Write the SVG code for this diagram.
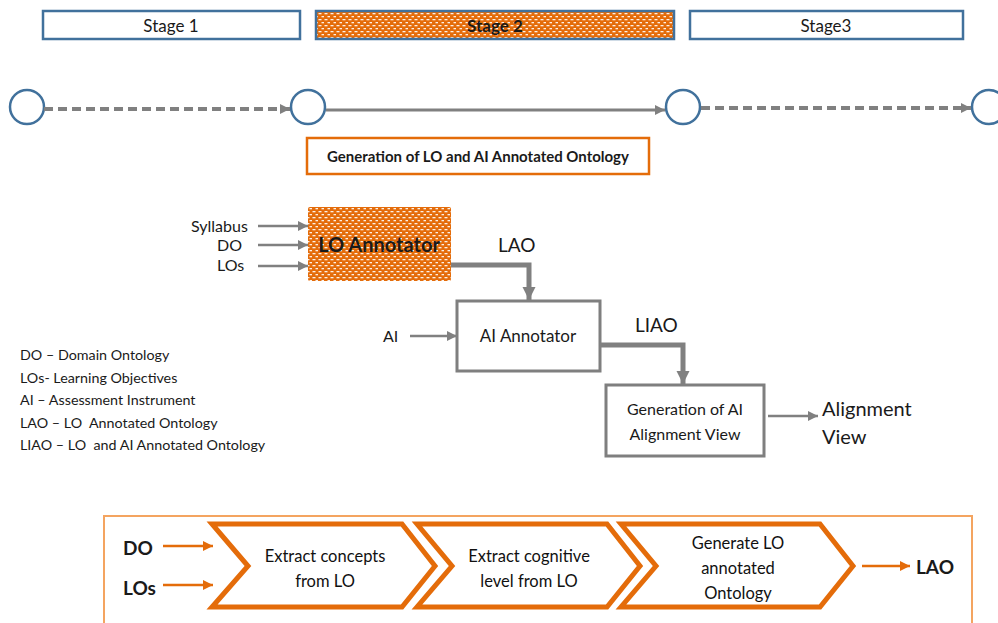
<svg xmlns="http://www.w3.org/2000/svg" width="998" height="623" viewBox="0 0 998 623">
  <defs>
    <pattern id="dots" width="6" height="6" patternUnits="userSpaceOnUse">
      <rect width="6" height="6" fill="#E46C0A"/>
      <rect x="0.5" y="1" width="3" height="1.3" fill="#FFFFFF" opacity="0.9"/>
      <rect x="3.5" y="4" width="3" height="1.3" fill="#FFFFFF" opacity="0.9"/>
    </pattern>
    <marker id="ahGray" viewBox="0 0 10 10" refX="10" refY="5" markerWidth="10" markerHeight="10" markerUnits="userSpaceOnUse" orient="auto">
      <path d="M0,0 L10,5 L0,10 Z" fill="#808080"/>
    </marker>
    <marker id="ahGrayBig" viewBox="0 0 10 10" refX="10" refY="5" markerWidth="13" markerHeight="14" markerUnits="userSpaceOnUse" orient="auto">
      <path d="M0,0 L10,5 L0,10 Z" fill="#808080"/>
    </marker>
    <marker id="ahOrange" viewBox="0 0 10 10" refX="10" refY="5" markerWidth="10" markerHeight="10" markerUnits="userSpaceOnUse" orient="auto">
      <path d="M0,0 L10,5 L0,10 Z" fill="#E46C0A"/>
    </marker>
  </defs>
  <style>
    text { font-family: Lato, "Open Sans", "Liberation Sans", sans-serif; fill: #1A1A1A; }
    .stage { fill: #FFFFFF; stroke: #41719C; stroke-width: 2.5; }
    .dot { fill: #FFFFFF; stroke: #41719C; stroke-width: 2.5; }
    .gbox { fill: #FFFFFF; stroke: #7F7F7F; stroke-width: 3; }
    .obox { fill: #FFFFFF; stroke: #E46C0A; stroke-width: 2.5; }
    .chev { fill: #FFFFFF; stroke: #E46C0A; stroke-width: 5; stroke-linejoin: miter; }
    .g { stroke: #808080; fill: none; }
    .o { stroke: #E46C0A; fill: none; stroke-width: 2.5; }
    .mid { text-anchor: middle; }
    .step { font-size: 16.5px; fill: #111111; }
    .pre { white-space: pre; }
  </style>

  <rect width="998" height="623" fill="#FFFFFF"/>

  <!-- stage bar -->
  <g id="stage1"><rect class="stage" x="43" y="11" width="257" height="28"/><text class="mid" x="171" y="32" font-size="17">Stage 1</text></g>
  <g id="stage2"><rect x="316" y="11" width="358" height="28" fill="url(#dots)" stroke="#41719C" stroke-width="2.5"/><text class="mid" x="495" y="32" font-size="17" font-weight="bold">Stage 2</text></g>
  <g id="stage3"><rect class="stage" x="690" y="11" width="273" height="28"/><text class="mid" x="826" y="32" font-size="17">Stage3</text></g>

  <!-- timeline milestones -->
  <g id="m1"><circle class="dot" cx="27" cy="107" r="17"/></g>
  <g id="m2"><circle class="dot" cx="308" cy="107" r="17"/></g>
  <g id="m3"><circle class="dot" cx="683" cy="107" r="17"/></g>
  <g id="m4"><circle class="dot" cx="989" cy="107" r="17"/></g>

  <g id="stage-title"><rect class="obox" x="307" y="138" width="342" height="36"/><text class="mid" x="478" y="162" font-size="15" font-weight="bold">Generation of LO and AI Annotated Ontology</text></g>

  <!-- pipeline blocks -->
  <g id="lo-annotator"><rect x="308" y="207" width="143" height="74" rx="2" fill="url(#dots)"/><text class="mid" x="379" y="252" font-size="20" font-weight="bold">LO Annotator</text></g>
  <g id="ai-annotator"><rect class="gbox" x="457" y="301" width="143" height="70"/><text class="mid" x="528" y="342" font-size="17">AI Annotator</text></g>
  <g id="alignment"><rect class="gbox" x="606" y="385" width="158" height="71"/><text class="mid" x="685" y="415" font-size="16">Generation of AI</text><text class="mid" x="685" y="440" font-size="16">Alignment View</text></g>

  <!-- inputs and outputs -->
  <g id="inputs">
    <text x="191" y="232" font-size="16">Syllabus</text>
    <text x="217" y="251" font-size="16">DO</text>
    <text x="217" y="271" font-size="16">LOs</text>
    <text x="383" y="342" font-size="16">AI</text>
    <text x="498" y="252" font-size="19">LAO</text>
    <text x="635" y="332" font-size="19">LIAO</text>
    <text x="822" y="416" font-size="20">Alignment</text>
    <text x="822" y="444" font-size="20">View</text>
  </g>

  <!-- legend -->
  <g id="legend" font-size="14.3">
    <text class="pre" x="20" y="360">DO – Domain Ontology</text>
    <text class="pre" x="20" y="382.5">LOs- Learning Objectives</text>
    <text class="pre" x="20" y="405">AI – Assessment Instrument</text>
    <text class="pre" x="20" y="427.5">LAO – LO  Annotated Ontology</text>
    <text class="pre" x="20" y="450">LIAO – LO  and AI Annotated Ontology</text>
  </g>

  <!-- LO annotator detail -->
  <g id="detail-frame"><rect x="104" y="516" width="868" height="120" fill="none" stroke="#F4A460" stroke-width="2"/></g>
  <g id="step1"><path class="chev" d="M212,524 L402,524 L435,566 L402,607 L212,607 L248,566 Z"/><text class="mid step" x="325" y="562">Extract concepts</text><text class="mid step" x="325" y="587">from LO</text></g>
  <g id="step2"><path class="chev" d="M417,524 L607,524 L640,566 L607,607 L417,607 L452,566 Z"/><text class="mid step" x="529" y="562">Extract cognitive</text><text class="mid step" x="529" y="587">level from LO</text></g>
  <g id="step3"><path class="chev" d="M621,524 L820,524 L853,566 L820,607 L621,607 L656,566 Z"/><text class="mid step" x="738" y="549">Generate LO</text><text class="mid step" x="738" y="574">annotated</text><text class="mid step" x="738" y="599">Ontology</text></g>
  <g id="detail-io">
    <text x="123" y="555" font-size="19" font-weight="bold">DO</text>
    <text x="123" y="595" font-size="19" font-weight="bold">LOs</text>
    <text x="916" y="574" font-size="19" font-weight="bold">LAO</text>
  </g>

  <!-- connectors -->
  <g id="connectors">
    <line class="g" x1="44" y1="109" x2="290" y2="109" stroke-width="4" stroke-dasharray="9,5" marker-end="url(#ahGray)"/>
    <line class="g" x1="326" y1="110" x2="665" y2="110" stroke-width="3" marker-end="url(#ahGray)"/>
    <line class="g" x1="701" y1="108" x2="971" y2="108" stroke-width="4" stroke-dasharray="9,5" marker-end="url(#ahGray)"/>

    <line class="g" x1="258" y1="226" x2="308" y2="226" stroke-width="2.5" marker-end="url(#ahGray)"/>
    <line class="g" x1="258" y1="245" x2="308" y2="245" stroke-width="2.5" marker-end="url(#ahGray)"/>
    <line class="g" x1="258" y1="266" x2="308" y2="266" stroke-width="2.5" marker-end="url(#ahGray)"/>
    <line class="g" x1="410" y1="336" x2="457" y2="336" stroke-width="2.5" marker-end="url(#ahGray)"/>

    <path class="g" d="M451,265 H529 V300" stroke-width="5" marker-end="url(#ahGrayBig)"/>
    <path class="g" d="M600,345 H683 V384" stroke-width="5" marker-end="url(#ahGrayBig)"/>
    <line class="g" x1="768" y1="416" x2="818" y2="416" stroke-width="2.5" marker-end="url(#ahGray)"/>

    <line class="o" x1="163" y1="546" x2="213" y2="546" marker-end="url(#ahOrange)"/>
    <line class="o" x1="163" y1="585" x2="213" y2="585" marker-end="url(#ahOrange)"/>
    <line class="o" x1="862" y1="566" x2="910" y2="566" marker-end="url(#ahOrange)"/>
  </g>
</svg>
